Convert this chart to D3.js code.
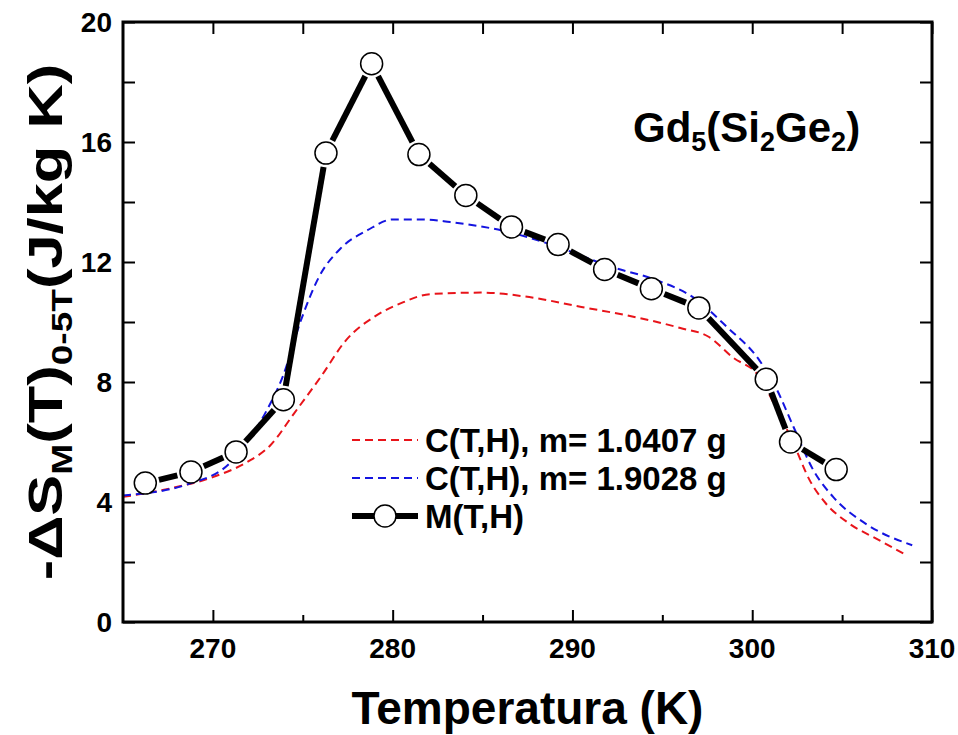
<!DOCTYPE html>
<html>
<head>
<meta charset="utf-8">
<script src="https://cdn.jsdelivr.net/npm/d3@7"></script>
<style>
  body { margin: 0; background: #fff; }
  svg text { font-family: "Liberation Sans", Arial, sans-serif; font-weight: bold; fill: #000; }
</style>
</head>
<body>
<svg width="958" height="735"></svg>
<script>
// Data
var mT = [266.24, 268.78, 271.29, 273.92, 276.29, 278.83, 281.46, 284.07, 286.61, 289.2, 291.79, 294.39, 297.03, 300.78, 302.13, 304.67];
var mS = [4.63, 5.0, 5.67, 7.41, 15.63, 18.61, 15.58, 14.22, 13.17, 12.58, 11.75, 11.11, 10.47, 8.09, 6.0, 5.08];

var redT = [265, 267.6, 270, 271.9, 273.2, 274.5, 276, 277.4, 279.1, 280.4, 282.1, 284.9, 287.6, 290.5, 293.2, 296, 297.6, 298.9, 300.4, 301.3, 302.3, 303.2, 304.1, 305.4, 306.9, 308.6];
var redS = [4.17, 4.45, 4.83, 5.33, 5.89, 6.94, 8.17, 9.39, 10.22, 10.61, 10.93, 10.98, 10.83, 10.5, 10.2, 9.8, 9.5, 8.83, 8.17, 7.17, 5.95, 4.72, 3.95, 3.28, 2.78, 2.22];

var blueT = [265, 268.6, 271, 273, 273.9, 274.9, 275.9, 277.1, 278.6, 280, 281.7, 283.2, 286.3, 289.2, 292.1, 294.7, 296.7, 298.6, 300.4, 301.3, 302.3, 303.4, 304.5, 306.3, 308.9];
var blueS = [4.22, 4.59, 5.33, 7.06, 8.2, 10.06, 11.5, 12.45, 13.06, 13.42, 13.42, 13.33, 13.02, 12.5, 11.85, 11.39, 10.83, 9.83, 8.72, 7.83, 6.5, 5.06, 4.17, 3.28, 2.56];

var xTicks = [270, 280, 290, 300, 310];
var xMinor = [275, 285, 295, 305];
var yTicks = [0, 4, 8, 12, 16, 20];
var yMinor = [2, 6, 10, 14, 18];

var legendLabels = ["C(T,H), m= 1.0407 g", "C(T,H), m= 1.9028 g", "M(T,H)"];

var svg = d3.select("svg");
var pl = 123, pr = 932, pt = 22, pb = 622;

var x = d3.scaleLinear().domain([265, 310]).range([pl, pr]);
var y = d3.scaleLinear().domain([0, 20]).range([pb, pt]);

// dashed curves
var line = d3.line()
  .x(function(d) { return x(d[0]); })
  .y(function(d) { return y(d[1]); })
  .curve(d3.curveMonotoneX);

svg.append("path")
  .datum(d3.zip(redT, redS))
  .attr("d", line)
  .attr("fill", "none")
  .attr("stroke", "#e8141a")
  .attr("stroke-width", 2)
  .attr("stroke-dasharray", "8,5");

svg.append("path")
  .datum(d3.zip(blueT, blueS))
  .attr("d", line)
  .attr("fill", "none")
  .attr("stroke", "#1414e0")
  .attr("stroke-width", 2)
  .attr("stroke-dasharray", "8,5");

// M(T,H): thick segments broken before each circle
var r = 11, gap = 3;
var pts = d3.zip(mT, mS);
var segs = d3.pairs(pts);
svg.append("g").selectAll("line")
  .data(segs)
  .enter().append("line")
  .each(function(d) {
    var x1 = x(d[0][0]), y1 = y(d[0][1]), x2 = x(d[1][0]), y2 = y(d[1][1]);
    var len = Math.hypot(x2 - x1, y2 - y1), k = (r + gap) / len;
    d3.select(this)
      .attr("x1", x1 + (x2 - x1) * k).attr("y1", y1 + (y2 - y1) * k)
      .attr("x2", x2 - (x2 - x1) * k).attr("y2", y2 - (y2 - y1) * k);
  })
  .attr("stroke", "#000")
  .attr("stroke-width", 6);

svg.append("g").selectAll("circle")
  .data(pts)
  .enter().append("circle")
  .attr("cx", function(d) { return x(d[0]); })
  .attr("cy", function(d) { return y(d[1]); })
  .attr("r", r)
  .attr("fill", "#fff")
  .attr("stroke", "#000")
  .attr("stroke-width", 1.5);

// frame
svg.append("rect")
  .attr("x", pl).attr("y", pt)
  .attr("width", pr - pl).attr("height", pb - pt)
  .attr("fill", "none").attr("stroke", "#000").attr("stroke-width", 3);

// axes, ticks pointing inward
function noDomain(g) { g.select(".domain").remove(); }
svg.append("g").attr("transform", "translate(0," + pb + ")")
  .call(d3.axisTop(x).tickValues(xTicks).tickSize(12).tickFormat(""))
  .call(noDomain);
svg.append("g").attr("transform", "translate(0," + pb + ")")
  .call(d3.axisTop(x).tickValues(xMinor).tickSize(7).tickFormat(""))
  .call(noDomain);
svg.append("g").attr("transform", "translate(0," + pt + ")")
  .call(d3.axisBottom(x).tickValues(xTicks.concat(xMinor)).tickSize(12).tickFormat(""))
  .call(noDomain);
svg.append("g").attr("transform", "translate(" + pl + ",0)")
  .call(d3.axisRight(y).tickValues(yTicks.concat(yMinor)).tickSize(12).tickFormat(""))
  .call(noDomain);
svg.append("g").attr("transform", "translate(" + pr + ",0)")
  .call(d3.axisLeft(y).tickValues(yTicks.concat(yMinor)).tickSize(12).tickFormat(""))
  .call(noDomain);
svg.selectAll(".tick line").attr("stroke", "#000").attr("stroke-width", 2);

// tick labels
svg.append("g").selectAll("text")
  .data(xTicks)
  .enter().append("text")
  .attr("x", function(d) { return x(d); })
  .attr("y", 658)
  .attr("text-anchor", "middle")
  .attr("font-size", 28)
  .text(function(d) { return d; });

svg.append("g").selectAll("text")
  .data(yTicks)
  .enter().append("text")
  .attr("x", 112)
  .attr("y", function(d) { return y(d) + 10; })
  .attr("text-anchor", "end")
  .attr("font-size", 28)
  .text(function(d) { return d; });

// axis titles
svg.append("text")
  .attr("x", (pl + pr) / 2)
  .attr("y", 724)
  .attr("text-anchor", "middle")
  .attr("font-size", 46)
  .text("Temperatura (K)");

var yl = svg.append("text")
  .attr("transform", "translate(62," + ((pt + pb) / 2) + ") rotate(-90) scale(1.28,1)")
  .attr("text-anchor", "middle")
  .attr("font-size", 48);
yl.append("tspan").text("-\u0394S");
yl.append("tspan").attr("font-size", 29).attr("dy", 10).text("M");
yl.append("tspan").attr("dy", -10).text("(T)");
yl.append("tspan").attr("font-size", 29).attr("dy", 10).text("0-5T");
yl.append("tspan").attr("dy", -10).text("(J/kg K)");

// compound label
var t = svg.append("text").attr("x", 633).attr("y", 142).attr("font-size", 42);
t.append("tspan").text("Gd");
t.append("tspan").attr("font-size", 27).attr("dy", 9).text("5");
t.append("tspan").attr("dy", -9).text("(Si");
t.append("tspan").attr("font-size", 27).attr("dy", 9).text("2");
t.append("tspan").attr("dy", -9).text("Ge");
t.append("tspan").attr("font-size", 27).attr("dy", 9).text("2");
t.append("tspan").attr("dy", -9).text(")");

// legend
var legY = [440, 478, 516];
var lg = svg.append("g");
[0, 1].forEach(function(i) {
  lg.append("line")
    .attr("x1", 352).attr("x2", 418)
    .attr("y1", legY[i]).attr("y2", legY[i])
    .attr("stroke", i === 0 ? "#e8141a" : "#1414e0")
    .attr("stroke-width", 2)
    .attr("stroke-dasharray", "8,5");
});
lg.append("line")
  .attr("x1", 352).attr("x2", 418)
  .attr("y1", legY[2]).attr("y2", legY[2])
  .attr("stroke", "#000").attr("stroke-width", 6);
lg.append("circle")
  .attr("cx", 385).attr("cy", legY[2]).attr("r", r)
  .attr("fill", "#fff").attr("stroke", "#000").attr("stroke-width", 1.5);
lg.selectAll("text.leg")
  .data(legendLabels)
  .enter().append("text")
  .attr("class", "leg")
  .attr("x", 425)
  .attr("y", function(d, i) { return legY[i] + 12; })
  .attr("font-size", 33)
  .text(function(d) { return d; });
</script>
</body>
</html>
